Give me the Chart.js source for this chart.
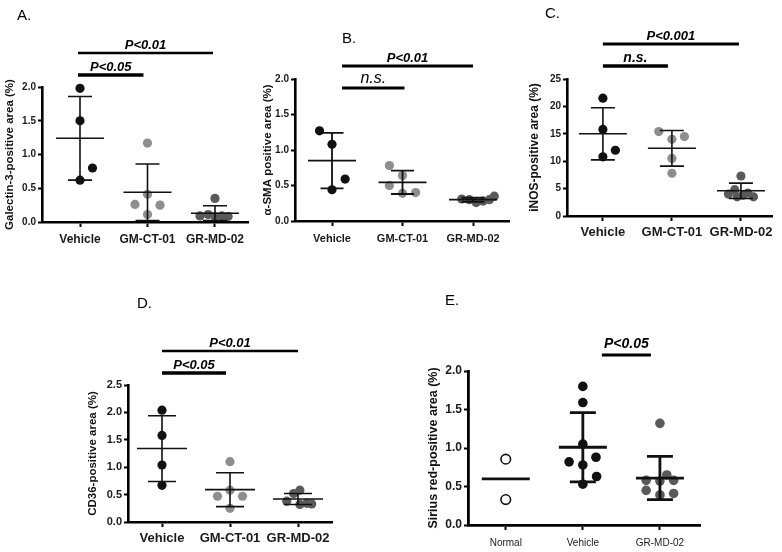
<!DOCTYPE html>
<html><head><meta charset="utf-8">
<script src="https://cdn.jsdelivr.net/npm/chart.js@4/dist/chart.umd.min.js"></script>
<style>
html,body{margin:0;padding:0;background:#fff;}
body{width:782px;height:552px;position:relative;overflow:hidden;}
canvas{position:absolute;display:block;}
</style></head><body>
<canvas id="cA" style="left:0px;top:0px"></canvas>
<canvas id="cB" style="left:258px;top:0px"></canvas>
<canvas id="cC" style="left:520px;top:0px"></canvas>
<canvas id="cD" style="left:80px;top:280px"></canvas>
<canvas id="cE" style="left:420px;top:280px"></canvas>
<script>
// ---------------- DATA ----------------
const groupsABCD = ['Vehicle', 'GM-CT-01', 'GR-MD-02'];
const groupsE = ['Normal', 'Vehicle', 'GR-MD-02'];

// A. Galectin-3
const galectinVehicle = [1.98, 1.50, 0.80, 0.62];
const galectinGMCT01 = [1.17, 0.41, 0.26, 0.25, 0.11];
const galectinGRMD02 = [0.35, 0.09, 0.11, 0.08, 0.09, 0.08];
const galectinMean = [1.24, 0.44, 0.13];
const galectinSD = [0.62, 0.42, 0.11];
const yTicksA = [0, 0.5, 1.0, 1.5, 2.0];
const sigLabelsA = ['P<0.01', 'P<0.05'];
const sigPairsA = [[0, 2], [0, 1]];

// B. alpha-SMA
const smaVehicle = [1.27, 1.08, 0.59, 0.44];
const smaGMCT01 = [0.78, 0.64, 0.50, 0.39, 0.40];
const smaGRMD02 = [0.31, 0.30, 0.26, 0.28, 0.30, 0.35];
const smaMean = [0.85, 0.545, 0.30];
const smaSD = [0.39, 0.165, 0.03];
const yTicksB = [0, 0.5, 1.0, 1.5, 2.0];
const sigLabelsB = ['P<0.01', 'n.s.'];
const sigPairsB = [[0, 2], [0, 1]];

// C. iNOS
const inosVehicle = [21.5, 15.8, 12.0, 10.8];
const inosGMCT01 = [15.4, 14.5, 14.0, 10.5, 7.8];
const inosGRMD02 = [7.3, 4.8, 4.0, 3.5, 3.8, 4.2, 3.5];
const inosMean = [15.0, 12.35, 4.6];
const inosSD = [4.75, 3.25, 1.4];
const yTicksC = [0, 5, 10, 15, 20, 25];
const sigLabelsC = ['P<0.001', 'n.s.'];
const sigPairsC = [[0, 2], [0, 1]];

// D. CD36
const cd36Vehicle = [2.04, 1.58, 1.04, 0.67];
const cd36GMCT01 = [1.10, 0.58, 0.47, 0.47, 0.25];
const cd36GRMD02 = [0.58, 0.52, 0.38, 0.32, 0.34, 0.33];
const cd36Mean = [1.34, 0.59, 0.42];
const cd36SD = [0.60, 0.31, 0.10];
const yTicksD = [0, 0.5, 1.0, 1.5, 2.0, 2.5];
const sigLabelsD = ['P<0.01', 'P<0.05'];
const sigPairsD = [[0, 2], [0, 1]];

// E. Sirius red
const siriusNormal = [0.855, 0.33];
const siriusVehicle = [1.80, 1.59, 1.05, 0.88, 0.82, 0.78, 0.63, 0.53];
const siriusGRMD02 = [1.32, 0.65, 0.58, 0.57, 0.58, 0.45, 0.39, 0.41];
const siriusMean = [0.60, 1.01, 0.61];
const siriusSD = [null, 0.45, 0.28];
const yTicksE = [0, 0.5, 1.0, 1.5, 2.0];
const sigLabelsE = ['P<0.05'];
const sigPairsE = [[1, 2]];

// ---------------- LAYOUT / STYLE ----------------
// swarm slots: horizontal dodge index of each point (1 = one point-width step)
const slotsA = [[0,0,1,0],[0,0,-1,1,0],[0,-1.2,-0.55,0,0.55,1.05]];
const slotsB = [[-1,0,1.05,0],[-1.05,0,-1.05,0,1.05],[-0.9,-0.3,0.25,0.8,1.3,1.7]];
const slotsC = [[0,0,1,0],[-1.05,1,0,0,0],[0,-0.5,-1,-0.3,0.15,0.55,1]];
const slotsD = [[0,0,0,0],[0,0,-1,1,0],[0.15,-0.35,-0.9,0.15,0.7,1.1]];
const slotsE = [[0,0],[0,0,0,1.05,-1.1,0,1.1,0],[0,0.55,-1.1,0,1.1,-1.1,0,1.1]];

const FAM = "'Liberation Sans', Arial, Helvetica, sans-serif";
const NARROW = "'Liberation Sans Narrow', 'Liberation Sans', Arial, sans-serif";
const DODGE = 12.5;
const colVehicle = {fill:'#111111', stroke:'#111111', bw:0};
const colGM = {fill:'#8e8e8e', stroke:'#8e8e8e', bw:0};
const colGR = {fill:'#5a5a5a', stroke:'#5a5a5a', bw:0};
const colNormal = {fill:'#ffffff', stroke:'#111111', bw:1.6};

function makePanel(p) {
  const canvas = document.getElementById(p.id);
  canvas.width = p.w; canvas.height = p.h;
  canvas.style.width = p.w + 'px'; canvas.style.height = p.h + 'px';
  const areaW = p.w - p.yWidth - p.pad.left - p.pad.right;
  const pxPerCat = areaW / (p.xMax - p.xMin);
  const datasets = [];
  p.series.forEach((vals, gi) => {
    const c = p.colors[gi];
    datasets.push({
      data: vals.map((v, k) => ({x: gi + p.slots[gi][k] * DODGE / pxPerCat, y: v})),
      pointRadius: p.r, pointHoverRadius: p.r,
      backgroundColor: c.fill, borderColor: c.stroke, borderWidth: c.bw,
      showLine: false, order: 2, clip: false
    });
  });
  const lineData = [];
  const mh = p.meanHalf / pxPerCat, ch = p.capHalf / pxPerCat;
  p.means.forEach((m, gi) => {
    lineData.push({x: gi - mh, y: m}, {x: gi + mh, y: m}, {x: gi, y: null});
    const s = p.sds[gi];
    if (s != null) {
      const lo = Math.max(m - s, 0);
      lineData.push({x: gi, y: lo}, {x: gi, y: m + s}, {x: gi, y: null});
      lineData.push({x: gi - ch, y: m + s}, {x: gi + ch, y: m + s}, {x: gi, y: null});
      lineData.push({x: gi - ch, y: lo}, {x: gi + ch, y: lo}, {x: gi, y: null});
    }
  });
  datasets.push({data: lineData, showLine: true, spanGaps: false, borderColor: '#111',
    borderWidth: p.lineW, pointRadius: 0, pointHoverRadius: 0, order: 1, tension: 0, clip: false});

  const decor = {
    id: 'decor_' + p.id,
    afterDraw(chart) {
      const ctx = chart.ctx, xs = chart.scales.x, top = chart.chartArea.top;
      ctx.save();
      ctx.fillStyle = '#000';
      ctx.font = p.letterFont;
      ctx.textAlign = 'left'; ctx.textBaseline = 'alphabetic';
      ctx.fillText(p.letter, p.letterX, p.letterY);
      p.sigPairs.forEach((pair, i) => {
        const b = p.bars[i];
        const x1 = xs.getPixelForValue(pair[0]) + b.in1;
        const x2 = xs.getPixelForValue(pair[1]) + b.in2;
        const y = top + b.dy;
        ctx.strokeStyle = '#000'; ctx.lineWidth = b.w; ctx.lineCap = 'butt';
        ctx.beginPath(); ctx.moveTo(x1, y); ctx.lineTo(x2, y); ctx.stroke();
        ctx.font = b.font; ctx.textAlign = 'center'; ctx.textBaseline = 'alphabetic';
        ctx.fillText(p.sigLabels[i], (x1 + x2) / 2 + (b.tx || 0), y - b.gap);
      });
      ctx.restore();
    }
  };

  const axisGrid = (len) => ({display: true, drawOnChartArea: false, drawTicks: true,
    tickLength: len, tickWidth: 2, tickColor: '#000', color: '#000'});
  const axisBorder = {display: true, color: '#000', width: p.axisW};

  new Chart(canvas, {
    type: 'scatter',
    data: {datasets},
    options: {
      responsive: false, animation: false, events: [],
      devicePixelRatio: 1,
      layout: {padding: p.pad},
      plugins: {legend: {display: false}, tooltip: {enabled: false}, title: {display: false}},
      scales: {
        x: {
          type: 'linear', min: p.xMin, max: p.xMax,
          afterBuildTicks: s => { s.ticks = p.groups.map((g, i) => ({value: i})); },
          afterFit: s => { s.height = p.xHeight; },
          ticks: {callback: v => p.groups[v] !== undefined ? p.groups[v] : '', font: p.xFont,
            color: '#1a1a1a', padding: p.xPad, maxRotation: 0, autoSkip: false},
          grid: axisGrid(5), border: axisBorder
        },
        y: {
          type: 'linear', min: 0, max: p.yMax,
          afterBuildTicks: s => { s.ticks = p.yTicks.map(v => ({value: v})); },
          afterFit: s => { s.width = p.yWidth; },
          ticks: {callback: v => v.toFixed(p.yDec), font: p.yFont, color: '#1a1a1a', padding: 2},
          grid: axisGrid(4), border: axisBorder,
          title: {display: true, text: p.yTitle, font: p.titleFont, color: '#111',
            padding: {top: p.titlePad, bottom: 0}}
        }
      }
    },
    plugins: [decor]
  });
}

const pIta = (sz, bold) => (bold ? 'bold ' : '') + 'italic ' + sz + 'px ' + FAM;

makePanel({
  id: 'cA', w: 258, h: 270, yWidth: 42, xHeight: 28, pad: {left: 0, top: 87, right: 10, bottom: 20},
  xMin: -0.563, xMax: 2.489, yMax: 2.0, yTicks: yTicksA, yDec: 1,
  yTitle: 'Galectin-3-positive area (%)', groups: groupsABCD,
  series: [galectinVehicle, galectinGMCT01, galectinGRMD02], colors: [colVehicle, colGM, colGR],
  means: galectinMean, sds: galectinSD, slots: slotsA, r: 4.6, meanHalf: 24, capHalf: 12, lineW: 1.6, axisW: 2.6,
  xFont: {family: FAM, size: 12, weight: 'bold'}, xPad: 5,
  yFont: {family: NARROW, size: 10, weight: 'bold'},
  titleFont: {family: FAM, size: 11.5, weight: 'bold'}, titlePad: 3,
  letter: 'A.', letterX: 17, letterY: 20, letterFont: '15px ' + FAM,
  sigLabels: sigLabelsA, sigPairs: sigPairsA,
  bars: [{dy: -34, w: 2.5, in1: -2, in2: -2, gap: 4, font: pIta(13, true)},
         {dy: -12, w: 3.5, in1: -2, in2: -4, gap: 4.5, font: pIta(13, true)}]
});

makePanel({
  id: 'cB', w: 262, h: 270, yWidth: 37, xHeight: 28, pad: {left: 0, top: 79, right: 11, bottom: 21},
  xMin: -0.525, xMax: 2.51, yMax: 2.0, yTicks: yTicksB, yDec: 1,
  yTitle: 'α-SMA positive area (%)', groups: groupsABCD,
  series: [smaVehicle, smaGMCT01, smaGRMD02], colors: [colVehicle, colGM, colGR],
  means: smaMean, sds: smaSD, slots: slotsB, r: 4.6, meanHalf: 24, capHalf: 11.5, lineW: 1.8, axisW: 2.6,
  xFont: {family: FAM, size: 11, weight: 'bold'}, xPad: 6,
  yFont: {family: NARROW, size: 10, weight: 'bold'},
  titleFont: {family: FAM, size: 11.5, weight: 'bold'}, titlePad: 2.5,
  letter: 'B.', letterX: 84, letterY: 43, letterFont: '15px ' + FAM,
  sigLabels: sigLabelsB, sigPairs: sigPairsB,
  bars: [{dy: -13, w: 3, in1: 10, in2: 0, gap: 4, font: pIta(13, true)},
         {dy: 9, w: 3, in1: 10, in2: 2, gap: 5, font: pIta(16, false)}]
});

makePanel({
  id: 'cC', w: 262, h: 270, yWidth: 47, xHeight: 28, pad: {left: 0, top: 79, right: 10, bottom: 26},
  xMin: -0.52, xMax: 2.45, yMax: 25, yTicks: yTicksC, yDec: 0,
  yTitle: 'iNOS-positive area (%)', groups: groupsABCD,
  series: [inosVehicle, inosGMCT01, inosGRMD02], colors: [colVehicle, colGM, colGR],
  means: inosMean, sds: inosSD, slots: slotsC, r: 4.6, meanHalf: 24, capHalf: 12, lineW: 1.6, axisW: 2.6,
  xFont: {family: FAM, size: 13, weight: 'bold'}, xPad: 4,
  yFont: {family: FAM, size: 10, weight: 'bold'},
  titleFont: {family: FAM, size: 12, weight: 'bold'}, titlePad: 7,
  letter: 'C.', letterX: 25, letterY: 18, letterFont: '15px ' + FAM,
  sigLabels: sigLabelsC, sigPairs: sigPairsC,
  bars: [{dy: -35, w: 3, in1: 0, in2: -2, gap: 4, font: pIta(13, true)},
         {dy: -13, w: 3.5, in1: 0, in2: -4, gap: 4.5, font: pIta(14, true)}]
});

makePanel({
  id: 'cD', w: 270, h: 272, yWidth: 48, xHeight: 28, pad: {left: 0, top: 105, right: 18, bottom: 2},
  xMin: -0.5, xMax: 2.5, yMax: 2.5, yTicks: yTicksD, yDec: 1,
  yTitle: 'CD36-positive area (%)', groups: groupsABCD,
  series: [cd36Vehicle, cd36GMCT01, cd36GRMD02], colors: [colVehicle, colGM, colGR],
  means: cd36Mean, sds: cd36SD, slots: slotsD, r: 4.6, meanHalf: 25, capHalf: 14, lineW: 1.6, axisW: 2.6,
  xFont: {family: FAM, size: 13, weight: 'bold'}, xPad: 4,
  yFont: {family: FAM, size: 11, weight: 'bold'},
  titleFont: {family: FAM, size: 11.5, weight: 'bold'}, titlePad: 5.5,
  letter: 'D.', letterX: 57, letterY: 28, letterFont: '15px ' + FAM,
  sigLabels: sigLabelsD, sigPairs: sigPairsD,
  bars: [{dy: -34, w: 2.5, in1: 0, in2: 0, gap: 4, font: pIta(13, true)},
         {dy: -12, w: 3.5, in1: 0, in2: -4, gap: 4.5, font: pIta(13, true)}]
});

makePanel({
  id: 'cE', w: 300, h: 272, yWidth: 48, xHeight: 27, pad: {left: 0, top: 91, right: 20, bottom: 0},
  xMin: -0.49, xMax: 2.52, yMax: 2.0, yTicks: yTicksE, yDec: 1,
  yTitle: 'Sirius red-positive area (%)', groups: groupsE,
  series: [siriusNormal, siriusVehicle, siriusGRMD02], colors: [colNormal, colVehicle, colGR],
  means: siriusMean, sds: siriusSD, slots: slotsE, r: 4.8, meanHalf: 24, capHalf: 13, lineW: 2.8, axisW: 2.8,
  xFont: {family: FAM, size: 10, weight: 'normal'}, xPad: 7,
  yFont: {family: FAM, size: 12, weight: 'bold'},
  titleFont: {family: FAM, size: 12.5, weight: 'bold'}, titlePad: 6,
  letter: 'E.', letterX: 25, letterY: 25, letterFont: '15px ' + FAM,
  sigLabels: sigLabelsE, sigPairs: sigPairsE,
  bars: [{dy: -16, w: 3, in1: 19, in2: -9, gap: 7, font: pIta(14, true)}]
});
</script>
</body></html>
